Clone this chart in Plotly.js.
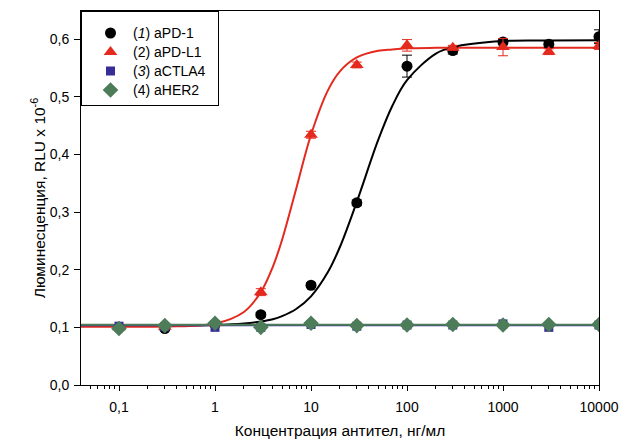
<!DOCTYPE html>
<html>
<head>
<meta charset="utf-8">
<script src="https://cdn.plot.ly/plotly-3.0.1.min.js"></script>
<style>html,body{margin:0;padding:0;background:#fff;}#chart{width:621px;height:445px;}</style>
</head>
<body>
<div id="chart"></div>
<script>
// Concentrations (ng/ml)
const conc = [0.1, 0.3, 1, 3, 10, 30, 100, 300, 1000, 3000, 10000];

// Measured points (RLU x 10^-6)
const aPD1 = [0.099, 0.098, 0.105, 0.122, 0.173, 0.316, 0.553, 0.580, 0.595, 0.591, 0.604];
const aPD1Err = [0.003, 0.003, 0.003, 0.004, 0.004, 0.005, 0.019, 0.006, 0.005, 0.005, 0.012];
const aPDL1 = [0.100, 0.101, 0.108, 0.161, 0.434, 0.555, 0.589, 0.585, 0.586, 0.578, 0.588];
const aPDL1Err = [0.002, 0.002, 0.003, 0.006, 0.006, 0.005, 0.010, 0.004, 0.015, 0.005, 0.006];
const aCTLA4 = [0.102, 0.101, 0.100, 0.100, 0.105, 0.102, 0.104, 0.104, 0.106, 0.100, 0.104];
const aHER2 = [0.098, 0.103, 0.107, 0.100, 0.107, 0.103, 0.104, 0.105, 0.104, 0.105, 0.105];

// Fitted curves
const fitX = [0.04, 0.1, 0.3, 1, 2, 3, 4, 5, 7, 10, 15, 20, 30, 50, 70, 100, 200, 300, 1000, 3000, 10000];
const fitPD1 = [0.103, 0.103, 0.103, 0.104, 0.1065, 0.110, 0.114, 0.1195, 0.1318, 0.1538, 0.1959, 0.2393, 0.3177, 0.4245, 0.4834, 0.5287, 0.5748, 0.586, 0.5965, 0.5975, 0.598];
const fitPDL1 = [0.101, 0.101, 0.1014, 0.1065, 0.1267, 0.161, 0.2049, 0.252, 0.340, 0.434, 0.511, 0.544, 0.568, 0.5795, 0.582, 0.5838, 0.5847, 0.585, 0.585, 0.585, 0.585];
const flatX = [0.04, 10000];
const fitCTLA4 = [0.1035, 0.1035];
const fitHER2 = [0.1045, 0.1045];

const names = ['(<i>1</i>) aPD-1', '(2) aPD-L1', '(<i>3</i>) aCTLA4', '(4) aHER2'];
const xTickVals = [0.1, 1, 10, 100, 1000, 10000];
const xTickText = ['0,1', '1', '10', '100', '1000', '10000'];
const yTickVals = [0, 0.1, 0.2, 0.3, 0.4, 0.5, 0.6];
const yTickText = ['0,0', '0,1', '0,2', '0,3', '0,4', '0,5', '0,6'];

const cBlack = '#000000', cRed = '#e42a1e', cBlue = '#372d96', cGreen = '#4d7c58';

const minorVals = [];
for (let e = -2; e <= 3; e++) for (let d = 2; d <= 9; d++) minorVals.push(d * Math.pow(10, e));

const big = s => '<span style="font-size:14px">' + s + '</span>\u00a0\u00a0';

const traces = [
  {x: fitX, y: fitPD1, mode: 'lines', line: {color: cBlack, width: 2, shape: 'spline'}, showlegend: false, hoverinfo: 'skip'},
  {x: fitX, y: fitPDL1, mode: 'lines', line: {color: cRed, width: 2, shape: 'spline'}, showlegend: false, hoverinfo: 'skip'},
  {x: flatX, y: fitCTLA4, mode: 'lines', line: {color: cBlue, width: 2}, showlegend: false, hoverinfo: 'skip'},
  {x: flatX, y: fitHER2, mode: 'lines', line: {color: cGreen, width: 2}, showlegend: false, hoverinfo: 'skip'},
  {x: conc, y: aPD1, name: big(names[0]), mode: 'markers', marker: {symbol: 'circle', size: 11, color: cBlack},
   error_y: {type: 'data', array: aPD1Err, color: cBlack, thickness: 1, width: 5}},
  {x: conc, y: aPDL1, name: big(names[1]), mode: 'markers', marker: {symbol: 'triangle-up', size: 12, color: cRed},
   error_y: {type: 'data', array: aPDL1Err, color: cRed, thickness: 1, width: 5}},
  {x: conc, y: aCTLA4, name: big(names[2]), mode: 'markers', marker: {symbol: 'square', size: 9, color: cBlue}},
  {x: conc, y: aHER2, name: big(names[3]), mode: 'markers', marker: {symbol: 'diamond', size: 12, color: cGreen}}
];

const layout = {
  width: 621, height: 445,
  margin: {l: 81, r: 22, t: 11, b: 60},
  paper_bgcolor: '#ffffff', plot_bgcolor: '#ffffff',
  font: {family: 'Liberation Sans, Arial, sans-serif', size: 14, color: '#000'},
  showlegend: true,
  legend: {x: 0, y: 1, xanchor: 'left', yanchor: 'top', bgcolor: '#ffffff', bordercolor: '#000', borderwidth: 1,
           font: {size: 12}, itemwidth: 35, indentation: 6, tracegroupgap: 0,
           title: {text: '\u00a0', font: {size: 5}}},
  xaxis: {
    type: 'log', range: [-1.396, 4], tickmode: 'array', tickvals: xTickVals, ticktext: xTickText,
    ticks: 'outside', ticklen: 5, tickcolor: '#000', showline: true, linecolor: '#000', linewidth: 1, mirror: true,
    showgrid: false, zeroline: false, tickfont: {size: 14}, ticklabelstandoff: 4,
    minor: {tickmode: 'array', tickvals: minorVals, ticks: 'outside', ticklen: 3, tickcolor: '#000', showgrid: false},
    title: {text: 'Концентрация антител, нг/мл', font: {size: 15.5}, standoff: 11}
  },
  yaxis: {
    range: [0, 0.6486], tickmode: 'array', tickvals: yTickVals, ticktext: yTickText,
    ticks: 'outside', ticklen: 6, tickcolor: '#000', showline: true, linecolor: '#000', linewidth: 1, mirror: true,
    showgrid: false, zeroline: false, tickfont: {size: 14}, ticklabelstandoff: 2,
    title: {text: 'Люминесценция, RLU x 10<sup>-6</sup>', font: {size: 15.5}, standoff: 0}
  }
};

Plotly.newPlot('chart', traces, layout, {displayModeBar: false, staticPlot: true});
</script>
</body>
</html>
